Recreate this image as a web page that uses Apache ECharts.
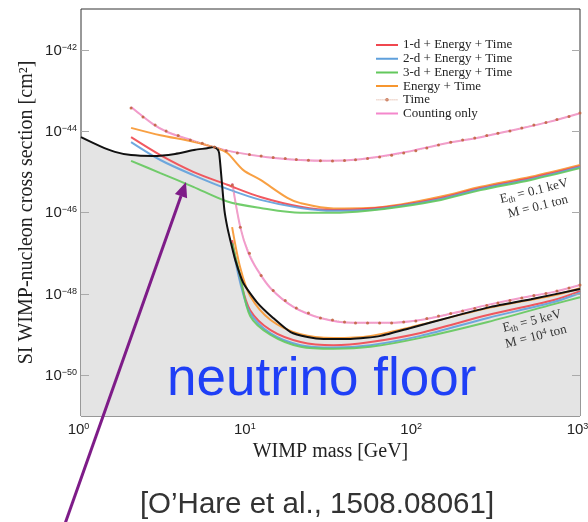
<!DOCTYPE html>
<html>
<head>
<meta charset="utf-8">
<script src="https://cdn.jsdelivr.net/npm/echarts@6/dist/echarts.min.js"></script>
<style>
  html, body { margin: 0; padding: 0; background: #fff; }
  #chart { width: 588px; height: 522px; }
</style>
</head>
<body>
<div id="chart"></div>
<script>
// WIMP mass [GeV] and SI cross section [cm^2] for each discovery-limit curve

// Neutrino floor (black boundary of the grey region)
const floorMass  = [1.0, 1.3, 1.6, 2.0, 2.71, 3.68, 4.86, 5.74, 6.24, 6.6, 6.77, 7.05, 7.28, 7.58, 7.9, 8.47, 9.46, 11.5, 14.3, 18.2, 23.0, 28.7, 41.7, 63.3, 95.9, 167, 291, 507, 1000];
const floorSigma = [7.1e-45, 4.27e-45, 3.09e-45, 2.57e-45, 2.45e-45, 2.75e-45, 3.47e-45, 3.8e-45, 4.07e-45, 3.63e-45, 2.88e-45, 4.8e-46, 1.15e-46, 4.37e-47, 2.09e-47, 6.76e-48, 1.86e-48, 6.03e-49, 2.56e-49, 1.15e-49, 8.7e-50, 7.8e-50, 7.8e-50, 9.3e-50, 1.46e-49, 2.69e-49, 4.8e-49, 7.4e-49, 1.32e-48];

// Low threshold set: E_th = 0.1 keV, M = 0.1 ton
const lowMass       = [2.0, 3.0, 4.73, 7.58, 12.0, 20.9, 33.0, 52.8, 83.5, 146, 253, 507, 1000];
const low1dSigma    = [7.08e-45, 2.57e-45, 1.0e-45, 4.8e-46, 2.4e-46, 1.38e-46, 1.15e-46, 1.23e-46, 1.51e-46, 2.29e-46, 3.98e-46, 7.08e-46, 1.38e-45];
const low2dSigma    = [5.37e-45, 1.95e-45, 8.3e-46, 3.8e-46, 2.04e-46, 1.29e-46, 1.10e-46, 1.15e-46, 1.45e-46, 2.14e-46, 3.8e-46, 6.6e-46, 1.32e-45];
const low3dSigma    = [1.86e-45, 9.3e-46, 4.27e-46, 1.86e-46, 1.29e-46, 9.8e-47, 9.8e-47, 1.10e-46, 1.38e-46, 2.04e-46, 3.55e-46, 6.31e-46, 1.23e-45];
const lowEnergyMass  = [2.0, 3.0, 4.73, 6.6, 7.58, 9.46, 12.0, 17.4, 20.9, 33.0, 52.8, 83.5, 146, 253, 507, 1000];
const lowEnergySigma = [1.2e-44, 7.9e-45, 5.5e-45, 3.8e-45, 2.88e-45, 1.1e-45, 6.3e-46, 2.29e-46, 1.7e-46, 1.26e-46, 1.29e-46, 1.58e-46, 2.47e-46, 4.27e-46, 7.6e-46, 1.48e-45];
const lowCountMass   = [2.0, 2.71, 3.30, 4.35, 5.99, 8.24, 13.2, 20.9, 30.3, 48.0, 83.5, 160, 253, 400, 642, 1000];
const lowCountSigma  = [3.89e-44, 1.48e-44, 9.5e-45, 6.46e-45, 4.27e-45, 3.09e-45, 2.29e-45, 1.95e-45, 1.86e-45, 2.04e-45, 2.88e-45, 5.13e-45, 7.08e-45, 1.07e-44, 1.66e-44, 2.75e-44];
const lowTimeMass  = [2.0, 2.36, 2.79, 3.25, 3.84, 4.54, 5.36, 6.33, 7.47, 8.71, 10.3, 12.1, 14.3, 16.9, 19.7, 23.3, 27.5, 32.5, 38.4, 44.7, 52.8, 62.4, 73.7, 87.1, 103, 120, 141, 167, 197, 233, 275, 321, 379, 447, 528, 624, 727, 859, 1000];
const lowTimeSigma = [3.71e-44, 2.22e-44, 1.41e-44, 1.0e-44, 7.8e-45, 6.03e-45, 5.0e-45, 4.07e-45, 3.31e-45, 2.88e-45, 2.66e-45, 2.45e-45, 2.24e-45, 2.12e-45, 2.0e-45, 1.91e-45, 1.86e-45, 1.85e-45, 1.90e-45, 1.97e-45, 2.12e-45, 2.31e-45, 2.54e-45, 2.88e-45, 3.31e-45, 3.84e-45, 4.55e-45, 5.3e-45, 6.03e-45, 6.76e-45, 7.8e-45, 8.9e-45, 1.0e-44, 1.2e-44, 1.41e-44, 1.62e-44, 1.93e-44, 2.29e-44, 2.79e-44];

// High threshold set: E_th = 5 keV, M = 10^4 ton
const highMass        = [8.1, 9.07, 10.4, 13.8, 20.9, 33.0, 55.1, 110, 279, 697, 1000];
const high1dSigma     = [2.09e-47, 2.19e-48, 3.98e-49, 1.29e-49, 6.6e-50, 5.5e-50, 6.6e-50, 1.10e-49, 3.02e-49, 7.08e-49, 1.17e-48];
const high2dSigma     = [1.69e-47, 1.86e-48, 3.39e-49, 1.07e-49, 5.5e-50, 4.8e-50, 5.5e-50, 9.3e-50, 2.57e-49, 6.31e-49, 1.05e-48];
const high3dSigma     = [1.78e-47, 2.63e-48, 2.86e-49, 9.8e-50, 5.0e-50, 4.47e-50, 5.0e-50, 8.3e-50, 2.04e-49, 5.6e-49, 8.3e-49];
const highEnergySigma = [4.37e-47, 4.37e-48, 8.9e-49, 2.29e-49, 1.02e-49, 8.3e-50, 9.3e-50, 1.74e-49, 4.47e-49, 9.3e-49, 1.38e-48];
const highCountMass   = [8.12, 9.07, 10.1, 11.5, 13.8, 18.9, 27.5, 43.5, 69.7, 110, 174, 279, 441, 697, 1000];
const highCountSigma  = [5.25e-46, 4.37e-47, 1.07e-47, 3.89e-48, 1.38e-48, 4.8e-49, 2.57e-49, 1.95e-49, 1.95e-49, 2.29e-49, 3.39e-49, 5.37e-49, 7.94e-49, 1.12e-48, 1.66e-48];
const highTimeMass  = [8.12, 9.07, 10.3, 12.1, 14.3, 16.9, 19.7, 23.3, 27.5, 32.5, 38.4, 44.7, 52.8, 62.4, 73.7, 87.1, 103, 120, 141, 167, 197, 233, 275, 321, 379, 447, 528, 624, 727, 859, 1000];
const highTimeSigma = [4.77e-46, 4.37e-47, 1.0e-47, 2.83e-48, 1.21e-48, 6.9e-49, 4.5e-49, 3.39e-49, 2.56e-49, 2.28e-49, 2.04e-49, 1.93e-49, 1.93e-49, 1.93e-49, 1.93e-49, 2.04e-49, 2.15e-49, 2.49e-49, 2.86e-49, 3.30e-49, 3.80e-49, 4.38e-49, 5.19e-49, 5.97e-49, 6.88e-49, 7.93e-49, 9.1e-49, 1.02e-48, 1.17e-48, 1.40e-48, 1.65e-48];

// Axis ticks
const massTicks      = [1, 10, 100, 1000];
const massMinorTicks = [2, 3, 4, 5, 6, 7, 8, 9, 20, 30, 40, 50, 60, 70, 80, 90, 200, 300, 400, 500, 600, 700, 800, 900];
const sigmaTickExps  = [-50, -48, -46, -44, -42];

const legendNames = ['1-d + Energy + Time', '2-d + Energy + Time', '3-d + Energy + Time', 'Energy + Time', 'Time', 'Counting only'];
const colors = { d1: '#f0474f', d2: '#5fa0dc', d3: '#63c85c', energy: '#f7962f', count: '#f487cc', time: '#c0603a' };

const SIGMA_MIN = 1e-51, SIGMA_MAX = 1e-41;
const sigmaTicks = sigmaTickExps.map(e => Number('1e' + e));
const pairs = (m, s) => m.map((x, i) => [x, s[i]]);

const SANS = 'Liberation Sans';
const SERIF = 'Liberation Serif';

function powLabel(v) {
  const e = Math.round(Math.log10(v));
  return '{b|10}{e|' + (e < 0 ? '\u2212' + (-e) : e) + '}';
}
const powRich = {
  b: { fontSize: 15, fontFamily: SANS, color: '#222', fill: '#222', lineHeight: 15, padding: [8, 0, 0, 0], verticalAlign: 'bottom' },
  e: { fontSize: 9, fontFamily: SANS, color: '#222', fill: '#222', lineHeight: 10, verticalAlign: 'top' }
};
const xPowRich = {
  b: powRich.b,
  e: Object.assign({}, powRich.e, { padding: [0, 5, 0, 0] })
};

// legend glyphs: a plain stroke, and a dotted stroke with a centre dot
const boxCorners = 'M0,0h0.01v0.01h-0.01zM21.99,9.99h0.01v0.01h-0.01z';
const lineIcon = 'path://' + boxCorners + 'M0,4h22v2h-22z';
let dots = '';
for (let x = 0.5; x < 22; x += 2) dots += 'M' + x + ',4.6h0.9v0.9h-0.9z';
const timeIcon = 'path://' + boxCorners + dots + 'M9.3,5a1.7,1.7 0 1,0 3.4,0a1.7,1.7 0 1,0 -3.4,0z';

function curve(name, m, s, color) {
  return {
    name: name, type: 'line', data: pairs(m, s),
    symbol: 'none', smooth: 0.3, clip: true,
    lineStyle: { color: color, width: 2, opacity: 0.9 },
    itemStyle: { color: color },
    z: 3
  };
}

function timeCurve(m, s) {
  return {
    name: 'Time', type: 'line', data: pairs(m, s),
    symbol: 'circle', symbolSize: 3, showSymbol: true, smooth: 0.3, clip: true,
    lineStyle: { color: '#e6bfb4', width: 1, type: 'dotted' },
    itemStyle: { color: colors.time, opacity: 0.85 },
    z: 5
  };
}

const chart = echarts.init(document.getElementById('chart'), null, { renderer: 'canvas' });

const annotations = [
  {
    type: 'text', x: 536, y: 199, rotation: 14 * Math.PI / 180, z: 20,
    style: {
      text: '{n|E}{s|th}{n| = 0.1 keV}\n{n|M = 0.1 ton}',
      align: 'center', verticalAlign: 'middle',
      rich: {
        n: { fontFamily: SERIF, fontSize: 13, fill: '#333', lineHeight: 16 },
        s: { fontFamily: SERIF, fontSize: 9, fill: '#333', lineHeight: 16, padding: [6, 0, 0, 0] }
      }
    }
  },
  {
    type: 'text', x: 534, y: 329, rotation: 14 * Math.PI / 180, z: 20,
    style: {
      text: '{n|E}{s|th}{n| = 5 keV}\n{n|M = 10}{p|4}{n| ton}',
      align: 'center', verticalAlign: 'middle',
      rich: {
        n: { fontFamily: SERIF, fontSize: 13, fill: '#333', lineHeight: 16 },
        s: { fontFamily: SERIF, fontSize: 9, fill: '#333', lineHeight: 16, padding: [6, 0, 0, 0] },
        p: { fontFamily: SERIF, fontSize: 9, fill: '#333', lineHeight: 16, padding: [0, 0, 6, 0] }
      }
    }
  },
  {
    type: 'text', x: 167, y: 380, z: 20,
    style: { text: 'neutrino floor', fontFamily: SANS, fontSize: 53, fill: '#1f3ff6', align: 'left', verticalAlign: 'middle' }
  },
  {
    type: 'text', x: 317, y: 505, z: 20,
    style: { text: '[O\u2019Hare et al., 1508.08061]', fontFamily: SANS, fontSize: 29.5, fill: '#333', align: 'center', verticalAlign: 'middle' }
  },
  {
    type: 'line', z: 30,
    shape: { x1: 62.8, y1: 530, x2: 181, y2: 196 },
    style: { stroke: '#7e1c88', lineWidth: 3 }
  },
  {
    type: 'polygon', z: 30,
    shape: { points: [[186, 182], [187.1, 198.3], [174.9, 193.9]] },
    style: { fill: '#7e1c88' }
  }
];

chart.setOption({
  animation: false,
  backgroundColor: '#fff',
  grid: {
    left: 81, right: 8, top: 9, bottom: 106,
    containLabel: false, outerBoundsMode: 'none',
    show: true, borderColor: '#333', borderWidth: 1, backgroundColor: '#fff'
  },
  legend: {
    data: legendNames.map(n => ({ name: n, icon: n === 'Time' ? timeIcon : lineIcon })),
    orient: 'vertical', left: 376, top: 38.5, padding: 0,
    itemWidth: 22, itemHeight: 10, itemGap: 0.7,
    textStyle: { fontFamily: SERIF, fontSize: 13, lineHeight: 13, color: '#222' },
    selectedMode: false
  },
  xAxis: [{
    type: 'log', logBase: 10, min: 1, max: 1000,
    axisLine: { show: false }, splitLine: { show: false },
    axisTick: { show: true, inside: true, length: 7, lineStyle: { color: '#999' }, customValues: massTicks },
    axisLabel: { customValues: massTicks, formatter: powLabel, rich: xPowRich, margin: 6 },
    name: 'WIMP mass [GeV]', nameLocation: 'middle', nameGap: 23,
    nameTextStyle: { fontFamily: SERIF, fontSize: 20, color: '#222' }
  }, {
    type: 'log', logBase: 10, min: 1, max: 1000, position: 'bottom',
    axisLine: { show: false }, splitLine: { show: false },
    axisTick: { show: true, inside: true, length: 4, lineStyle: { color: '#999' }, customValues: massMinorTicks },
    axisLabel: { show: false }
  }],
  yAxis: [{
    type: 'log', logBase: 10, min: SIGMA_MIN, max: SIGMA_MAX,
    axisLine: { show: false }, splitLine: { show: false },
    axisTick: { show: false }, axisLabel: { show: false },
    name: 'SI WIMP-nucleon cross section [cm\u00B2]', nameLocation: 'middle', nameGap: 44, nameRotate: 90,
    nameTextStyle: { fontFamily: SERIF, fontSize: 20, color: '#222' }
  }],
  series: [
    // grey region under the neutrino floor
    { name: 'floor-area', type: 'line', data: pairs(floorMass, floorSigma), symbol: 'none', smooth: 0.2,
      lineStyle: { width: 0 }, areaStyle: { color: '#e4e4e4', opacity: 1, origin: SIGMA_MIN }, z: 1, silent: true },

    curve('Counting only', lowCountMass, lowCountSigma, colors.count),
    curve('Counting only', highCountMass, highCountSigma, colors.count),
    timeCurve(lowTimeMass, lowTimeSigma),
    timeCurve(highTimeMass, highTimeSigma),

    curve('Energy + Time', lowEnergyMass, lowEnergySigma, colors.energy),
    curve('Energy + Time', highMass, highEnergySigma, colors.energy),
    curve('1-d + Energy + Time', lowMass, low1dSigma, colors.d1),
    curve('1-d + Energy + Time', highMass, high1dSigma, colors.d1),
    curve('2-d + Energy + Time', lowMass, low2dSigma, colors.d2),
    curve('2-d + Energy + Time', highMass, high2dSigma, colors.d2),
    curve('3-d + Energy + Time', lowMass, low3dSigma, colors.d3),
    curve('3-d + Energy + Time', highMass, high3dSigma, colors.d3),

    // neutrino floor line
    { name: 'neutrino-floor', type: 'line', data: pairs(floorMass, floorSigma), symbol: 'none', smooth: 0.2,
      lineStyle: { color: '#111', width: 2 }, z: 4, silent: true }
  ],
  graphic: annotations
});

// cross-section ticks (both sides) and their power-of-ten labels, placed through the y scale
const xLeft = chart.convertToPixel({ xAxisIndex: 0 }, 1);
const xRight = chart.convertToPixel({ xAxisIndex: 0 }, 1000);
const yTickGraphics = [];
sigmaTicks.forEach(v => {
  const y = Math.round(chart.convertToPixel({ yAxisIndex: 0 }, v)) + 0.5;
  yTickGraphics.push(
    { type: 'line', z: 10, shape: { x1: xLeft, y1: y, x2: xLeft + 8, y2: y }, style: { stroke: '#aaa', lineWidth: 1 } },
    { type: 'line', z: 10, shape: { x1: xRight - 8, y1: y, x2: xRight, y2: y }, style: { stroke: '#aaa', lineWidth: 1 } },
    { type: 'text', z: 10, x: xLeft - 4, y: y, style: { text: powLabel(v), rich: powRich, align: 'right', verticalAlign: 'middle' } }
  );
});
chart.setOption({ graphic: annotations.concat(yTickGraphics) });
</script>
</body>
</html>
